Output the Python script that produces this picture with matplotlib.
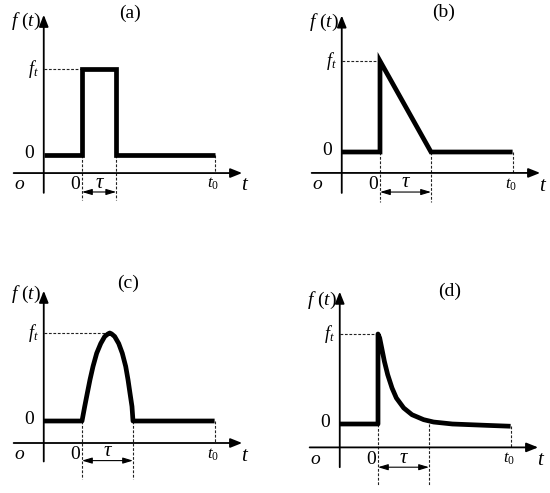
import matplotlib
matplotlib.use('Agg')
import matplotlib.pyplot as plt

plt.rcParams['font.family'] = ['Liberation Serif', 'DejaVu Serif']
plt.rcParams['mathtext.fontset'] = 'custom'
plt.rcParams['mathtext.rm'] = 'Liberation Serif'
plt.rcParams['mathtext.it'] = 'Liberation Serif:italic'

# signal data: t in units (0 = pulse start), f normalised to f_t = 1
t_zero = -0.75      # where the f(t) axis sits
t_end = 2.6         # t0

# (a) rectangular pulse
tau_a = 0.67
t_a = [t_zero, 0, 0, tau_a, tau_a, t_end]
f_a = [0, 0, 1, 1, 0, 0]

# (b) triangular (linear decay)
tau_b = 1.0
t_b = [t_zero, 0, 0, tau_b, t_end]
f_b = [0, 0, 1, 0, 0]

# (c) half-wave pulse
tau_c = 1.0
t_c = [t_zero, 0.0, 0.053, 0.104, 0.157, 0.216, 0.288, 0.367, 0.445, 0.51, 0.545,
       0.58, 0.641, 0.72, 0.79, 0.857, 0.902, 0.941, 0.98, 1.0, t_end]
f_c = [0, 0.0, 0.165, 0.316, 0.47, 0.62, 0.77, 0.88, 0.96, 0.99, 1.0,
       0.99, 0.96, 0.88, 0.77, 0.62, 0.47, 0.316, 0.165, 0.0, 0]
t_peak_c = 0.545

# (d) exponential-like decay
tau_d = 1.0
t_d = [t_zero, 0, 0, 0.033, 0.073, 0.125, 0.19, 0.275, 0.36, 0.504, 0.667, 0.896,
       1.09, 1.46, 2.13, t_end]
f_d = [0, 0, 1, 0.956, 0.844, 0.696, 0.548, 0.4, 0.289, 0.178, 0.103, 0.048,
       0.022, 0.0, -0.015, -0.025]

# %%
# layout (pixels of a 550 x 493 figure)
W, H = 550, 493
SX = 51  # px per unit of t
fig = plt.figure(figsize=(W / 100, H / 100), dpi=100)


def panel(rect, origin, sy):
    left, top, right, bottom = rect
    ox, oy = origin
    ax = fig.add_axes([left / W, 1 - bottom / H, (right - left) / W, (bottom - top) / H])
    ax.set_xlim((left - ox) / SX, (right - ox) / SX)
    ax.set_ylim((oy - bottom) / sy, (oy - top) / sy)
    ax.axis('off')
    return ax


panels = [
    dict(tag='(a)', t=t_a, f=f_a, tau=tau_a, peak=0, rect=(0, 0, 275, 246), origin=(82, 155), sy=86,
         ytop=1.63, ybot=-0.44, xax=-0.21, dash_bot=-0.52, tau_y=-0.43, tag_xy=(0.94, 1.65),
         fl_y=1.55, join='miter'),
    dict(tag='(b)', t=t_b, f=f_b, tau=tau_b, peak=0, rect=(275, 0, 550, 246), origin=(380, 152), sy=91,
         ytop=1.5, ybot=-0.45, xax=-0.23, dash_bot=-0.55, tau_y=-0.44, tag_xy=(1.24, 1.53),
         fl_y=1.42, join='miter'),
    dict(tag='(c)', t=t_c, f=f_c, tau=tau_c, peak=t_peak_c, rect=(0, 246, 275, 493), origin=(82, 421),
         sy=88, ytop=1.48, ybot=-0.46, xax=-0.25, dash_bot=-0.66, tau_y=-0.45, tag_xy=(0.9, 1.56),
         fl_y=1.44, join='round'),
    dict(tag='(d)', t=t_d, f=f_d, tau=tau_d, peak=0, rect=(275, 246, 550, 493), origin=(378, 424), sy=90,
         ytop=1.47, ybot=-0.48, xax=-0.26, dash_bot=-0.68, tau_y=-0.48, tag_xy=(1.41, 1.47),
         fl_y=1.37, join='round'),
]

dash = dict(color='#222222', lw=0.8, ls=(0, (2.5, 1.5)))
arrow = dict(arrowstyle='-|>,head_length=0.7,head_width=0.28', color='k', lw=1.3,
             shrinkA=0, shrinkB=0)
small_arrow = dict(arrowstyle='<|-|>,head_length=0.6,head_width=0.18', color='k', lw=0.8,
                   shrinkA=0, shrinkB=0)

for p in panels:
    ax = panel(p['rect'], p['origin'], p['sy'])
    # axes with arrows
    ax.annotate('', xy=(t_zero, p['ytop']), xytext=(t_zero, p['ybot']), arrowprops=arrow)
    ax.annotate('', xy=(3.14, p['xax']), xytext=(-1.34, p['xax']), arrowprops=arrow)
    # guide lines
    ax.plot([t_zero, p['peak']], [1, 1], **dash)
    ax.plot([0, 0], [0, p['dash_bot']], **dash)
    ax.plot([p['tau'], p['tau']], [0, p['dash_bot']], **dash)
    ax.plot([t_end, t_end], [p['f'][-1], p['xax']], **dash)
    ax.annotate('', xy=(p['tau'], p['tau_y']), xytext=(0, p['tau_y']), arrowprops=small_arrow)
    # signal
    ax.plot(p['t'], p['f'], color='k', lw=3.4, solid_capstyle='butt', solid_joinstyle=p['join'])
    # labels
    ax.text(t_zero - 0.05, p['fl_y'], r'$f\ (t)$', ha='right', va='center', fontsize=14)
    ax.text(*p['tag_xy'], p['tag'], ha='center', va='center', fontsize=14)
    ax.text(t_zero - 0.2, 1.0, r'$f_t$', ha='center', va='center', fontsize=13)
    ax.text(t_zero - 0.28, 0.02, '0', ha='center', va='center', fontsize=14)
    lab_y = p['xax'] - 0.13
    ax.text(t_zero - 0.47, lab_y, 'o', ha='center', va='center', fontsize=14, style='italic')
    ax.text(-0.14, lab_y, '0', ha='center', va='center', fontsize=14)
    ax.text(t_end - 0.03, lab_y, r'$t_0$', ha='center', va='center', fontsize=12)
    ax.text(3.2, lab_y - 0.02, r'$t$', ha='center', va='center', fontsize=15)
    ax.text(p['tau'] / 2, p['tau_y'] + 0.1, 'τ', ha='center', va='center', fontsize=15, style='italic')

fig.savefig('out.png', dpi=100)
